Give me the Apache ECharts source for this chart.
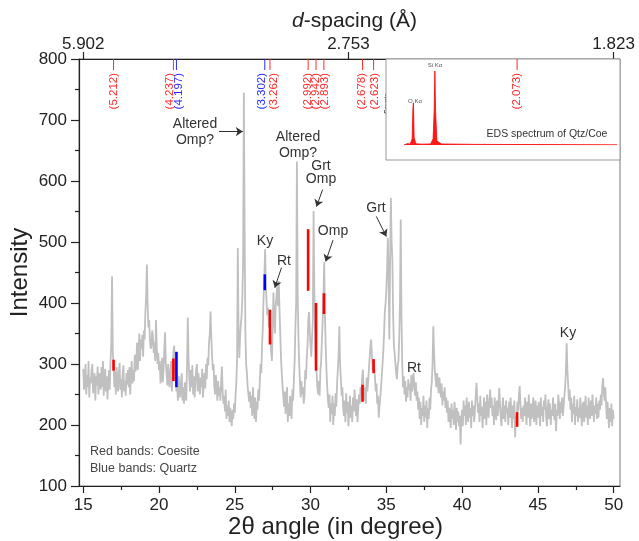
<!DOCTYPE html>
<html>
<head>
<meta charset="utf-8">
<script src="https://cdn.jsdelivr.net/npm/echarts@6/dist/echarts.min.js"></script>
<style>
html,body{margin:0;padding:0;background:#fff;}
#chart{width:639px;height:541px;}
</style>
</head>
<body>
<div id="chart"></div>
<script>
// XRD pattern, 2theta from 15 to 50 every 0.05 degree (one row = one degree)
var angleStart = 15.0;
var angleStep = 0.05;
var intensity = [
  292, 258, 275, 300, 250, 282, 262, 305, 245, 278, 268, 290, 300, 252, 262, 285, 240, 280, 265, 296,
  250, 285, 272, 258, 295, 262, 305, 248, 270, 292, 255, 280, 242, 268, 290, 258, 305, 330, 444, 320,
  300, 262, 288, 250, 295, 270, 255, 288, 302, 258, 275, 245, 282, 298, 255, 272, 248, 285, 266, 290,
  262, 295, 250, 282, 305, 268, 290, 272, 315, 288, 300, 335, 290, 318, 350, 305, 340, 325, 348, 312,
  355, 340, 385, 410, 463, 398, 360, 372, 340, 325, 330, 355, 345, 318, 335, 305, 372, 330, 300, 318,
  290, 305, 268, 282, 310, 270, 290, 325, 352, 300, 285, 265, 300, 272, 262, 290, 305, 255, 280, 320,
  330, 290, 275, 255, 262, 240, 280, 258, 245, 270, 285, 240, 262, 235, 270, 252, 240, 300, 376, 310,
  275, 255, 290, 262, 298, 250, 280, 245, 270, 290, 300, 255, 285, 268, 250, 278, 262, 292, 245, 268,
  285, 260, 300, 275, 310, 298, 335, 350, 386, 345, 315, 290, 300, 262, 250, 282, 265, 240, 272, 248,
  262, 240, 270, 296, 255, 235, 248, 222, 258, 210, 232, 215, 240, 205, 228, 212, 198, 225, 210, 235,
  220, 248, 270, 305, 490, 350, 310, 345, 365, 380, 410, 470, 745, 520, 350, 300, 285, 262, 250, 238,
  255, 228, 248, 215, 262, 232, 210, 245, 205, 238, 225, 258, 240, 270, 300, 285, 330, 360, 410, 440,
  488, 430, 400, 380, 392, 360, 372, 345, 320, 305, 360, 417, 380, 350, 395, 410, 427, 395, 436, 390,
  350, 310, 285, 265, 248, 230, 255, 218, 242, 262, 205, 235, 215, 248, 225, 210, 258, 240, 275, 305,
  360, 400, 632, 420, 345, 300, 268, 245, 272, 250, 262, 235, 248, 290, 275, 310, 330, 372, 385, 350,
  330, 312, 345, 370, 551, 420, 350, 300, 285, 262, 250, 272, 248, 290, 305, 340, 370, 410, 467, 380,
  330, 290, 262, 240, 228, 250, 205, 235, 218, 248, 200, 235, 215, 252, 230, 268, 290, 315, 362, 300,
  275, 248, 262, 230, 215, 240, 205, 252, 220, 238, 198, 225, 248, 212, 232, 205, 245, 222, 258, 235,
  215, 242, 205, 228, 250, 235, 262, 248, 275, 291, 258, 240, 262, 235, 278, 255, 270, 292, 310, 330,
  340, 312, 290, 305, 296, 278, 255, 268, 235, 248, 212, 230, 245, 262, 280, 300, 320, 350, 385, 400,
  420, 455, 507, 440, 340, 470, 572, 500, 470, 380, 330, 318, 300, 285, 275, 298, 305, 340, 400, 537,
  380, 300, 262, 280, 250, 272, 238, 262, 245, 275, 258, 268, 240, 282, 255, 272, 285, 262, 248, 270,
  240, 255, 225, 245, 210, 238, 200, 228, 215, 248, 205, 232, 212, 240, 195, 228, 210, 245, 225, 258,
  270, 300, 362, 320, 290, 275, 262, 285, 270, 252, 278, 262, 245, 268, 232, 255, 240, 262, 228, 245,
  220, 240, 205, 228, 212, 195, 235, 210, 225, 200, 238, 215, 192, 228, 205, 222, 198, 215, 168, 210,
  225, 198, 240, 215, 232, 200, 245, 218, 205, 238, 212, 228, 195, 240, 215, 232, 205, 225, 248, 269,
  245, 220, 235, 205, 248, 215, 230, 195, 222, 245, 210, 238, 200, 250, 225, 212, 240, 258, 228, 245,
  215, 232, 200, 245, 222, 208, 240, 215, 230, 261, 235, 212, 198, 225, 245, 210, 232, 205, 240, 220,
  228, 200, 238, 212, 245, 220, 195, 232, 210, 240, 180, 215, 205, 238, 222, 248, 264, 235, 210, 228,
  205, 232, 215, 245, 225, 200, 238, 212, 250, 220, 198, 235, 210, 228, 245, 205, 222, 240, 200, 232,
  212, 238, 222, 198, 245, 215, 230, 205, 240, 225, 250, 212, 198, 228, 242, 210, 235, 200, 225, 215,
  245, 220, 208, 235, 190, 225, 215, 250, 232, 210, 238, 220, 245, 215, 230, 248, 262, 290, 334, 290,
  265, 240, 258, 225, 245, 205, 235, 218, 248, 200, 230, 215, 242, 205, 228, 212, 245, 220, 198, 232,
  238, 205, 225, 248, 212, 232, 200, 245, 222, 210, 240, 215, 250, 228, 205, 232, 218, 245, 210, 235,
  212, 240, 225, 250, 232, 262, 277, 255, 240, 262, 235, 210, 238, 215, 195, 228, 205, 235, 198, 225,
  210
];

// coesite (red) and quartz (blue) reference bands
var bandAngles = [17.0, 20.95, 21.15, 26.98, 27.32, 29.84, 30.36, 30.88, 33.43, 34.16, 43.63];
var bandLow    = [289, 272, 262, 421, 332, 420, 289, 382, 238, 285, 197];
var bandHigh   = [307, 309, 320, 447, 389, 521, 400, 416, 266, 308, 221];
var bandPhase  = ['c', 'c', 'q', 'q', 'c', 'c', 'c', 'c', 'c', 'c', 'c'];

// d-spacing labels on top
var dLabels = ['(5.212)', '(4.237)', '(4.197)', '(3.302)', '(3.262)', '(2.992)', '(2.942)', '(2.893)', '(2.678)', '(2.623)', '(2.073)'];

// top axis ticks
var topTickAngles = [15, 32.5, 50];
var topTickLabels = ['5.902', '2.753', '1.823'];
var bottomTicks = [15, 20, 25, 30, 35, 40, 45, 50];
var bottomMinor = [17.5, 22.5, 27.5, 32.5, 37.5, 42.5, 47.5];

// EDS inset
var edsEnergy = [0.0, 0.2, 0.35, 0.46, 0.5, 0.53, 0.57, 0.66, 1.0, 1.5, 1.64, 1.7, 1.74, 1.78, 1.85, 2.1, 4.0, 8.0, 12.0];
var edsCounts = [0, 200, 120, 900, 5200, 6100, 1100, 180, 120, 150, 900, 5000, 10700, 4800, 600, 150, 90, 60, 40];

var colorC = '#ff0000';
var colorQ = '#0000ff';
var labelOffsets = [0, -4, 2, -3, 4, 0, 0, 1, -1, 1, 0];
var FONT = 'Liberation Sans, Arial, sans-serif';

var chart = echarts.init(document.getElementById('chart'));

var lineData = intensity.map(function (v, i) {
  return [+(angleStart + i * angleStep).toFixed(2), v];
});
var bandData = bandAngles.map(function (a, i) {
  return [a, bandLow[i], bandHigh[i], i];
});
var dData = bandAngles.map(function (a, i) {
  return [a, 800, i];
});

var xMin = 14.72, xMax = 50.42;

var option = {
  animation: false,
  backgroundColor: '#fff',
  textStyle: {fontFamily: FONT},
  grid: [
    {left: 79, right: 19, top: 59, bottom: 55, outerBoundsMode: 'none', containLabel: false,
     show: true, borderColor: '#777', borderWidth: 1},
    {left: 404, top: 62, width: 213, height: 83, outerBoundsMode: 'none', containLabel: false,
     show: true, borderColor: '#a8a8f0', borderWidth: 1, backgroundColor: '#fff'}
  ],
  xAxis: [
    {
      type: 'value', gridIndex: 0, position: 'bottom', min: xMin, max: xMax,
      name: '2\u03b8 angle (in degree)', nameLocation: 'middle', nameGap: 29, nameMoveOverlap: false,
      nameTextStyle: {fontSize: 24, color: '#222', padding: [0, 28, 0, 0]},
      axisLine: {show: true, lineStyle: {color: '#222', width: 1.2}},
      axisTick: {show: true, length: 7, customValues: bottomTicks, lineStyle: {color: '#222', width: 1.2}},
      axisLabel: {customValues: bottomTicks, fontSize: 17, color: '#222', margin: 11},
      splitLine: {show: false}
    },
    {
      type: 'value', gridIndex: 0, position: 'top', min: xMin, max: xMax,
      name: '{i|d}-spacing (\u00c5)', nameLocation: 'middle', nameGap: 27, nameMoveOverlap: false,
      nameTextStyle: {fontSize: 21, color: '#222', padding: [0, 0, 0, 10], rich: {i: {fontSize: 21, fontStyle: 'italic', color: '#222'}}},
      axisLine: {show: true, lineStyle: {color: '#222', width: 1.2}},
      axisTick: {show: true, length: 7, customValues: topTickAngles, lineStyle: {color: '#222', width: 1.2}},
      axisLabel: {
        customValues: topTickAngles, fontSize: 17, color: '#222', margin: 6,
        formatter: function (v) {
          var k = topTickAngles.indexOf(v);
          return k >= 0 ? topTickLabels[k] : '';
        }
      },
      splitLine: {show: false}
    },
    {
      type: 'value', gridIndex: 0, position: 'bottom', min: xMin, max: xMax,
      axisLine: {show: false},
      axisTick: {show: true, length: 4, customValues: bottomMinor, lineStyle: {color: '#222', width: 1.2}},
      axisLabel: {show: false},
      splitLine: {show: false}
    },
    {
      type: 'value', gridIndex: 1, min: 0, max: 12, interval: 1.2,
      name: 'KeV', nameLocation: 'middle', nameGap: 8,
      nameTextStyle: {fontSize: 6, fontWeight: 'bold', color: '#333'},
      axisLine: {show: false},
      axisTick: {show: false},
      axisLabel: {fontSize: 3.5, color: '#888', margin: 2, formatter: function (v) { return v.toFixed(1); }},
      splitLine: {show: false}
    }
  ],
  yAxis: [
    {
      type: 'value', gridIndex: 0, min: 100, max: 800, interval: 100,
      name: 'Intensity', nameLocation: 'middle', nameGap: 47, nameMoveOverlap: false,
      nameTextStyle: {fontSize: 24, color: '#222'},
      axisLine: {show: true, lineStyle: {color: '#222', width: 1.2}},
      axisTick: {show: true, length: 8, lineStyle: {color: '#222', width: 1.2}},
      minorTick: {show: true, splitNumber: 2, length: 4, lineStyle: {color: '#222', width: 1.2}},
      axisLabel: {fontSize: 17, color: '#222', margin: 12},
      splitLine: {show: false}
    },
    {
      type: 'value', gridIndex: 1, min: 0, max: 12000, interval: 1000,
      name: 'Counts', nameLocation: 'middle', nameGap: 10,
      nameTextStyle: {fontSize: 6, fontWeight: 'bold', color: '#333'},
      axisLine: {show: false},
      axisTick: {show: false},
      axisLabel: {fontSize: 3, color: '#888', margin: 2},
      splitLine: {show: false}
    }
  ],
  series: [
    {
      type: 'line', xAxisIndex: 0, yAxisIndex: 0, data: lineData,
      symbol: 'none', clip: true, z: 2,
      lineStyle: {color: '#c0c0c0', width: 1.8},
      markLine: {
        silent: true, symbol: ['none', 'arrow'], symbolSize: 7, precision: 2,
        label: {show: false},
        lineStyle: {color: '#333', width: 1, type: 'solid'},
        data: [
          [{coord: [23.96, 681]}, {coord: [25.53, 681]}],
          [{coord: [30.80, 586]}, {coord: [30.39, 558]}],
          [{coord: [31.48, 503]}, {coord: [31.00, 468]}],
          [{coord: [34.34, 542]}, {coord: [35.00, 509]}],
          [{coord: [28.08, 458]}, {coord: [27.64, 425]}]
        ]
      }
    },
    {
      type: 'custom', xAxisIndex: 0, yAxisIndex: 0, data: bandData, z: 4,
      renderItem: function (params, api) {
        var lo = api.coord([api.value(0), api.value(1)]);
        var hi = api.coord([api.value(0), api.value(2)]);
        var k = api.value(3);
        return {
          type: 'rect',
          shape: {x: lo[0] - 1.3, y: hi[1], width: 2.6, height: lo[1] - hi[1]},
          style: {fill: bandPhase[k] === 'q' ? colorQ : colorC}
        };
      }
    },
    {
      type: 'custom', xAxisIndex: 0, yAxisIndex: 0, data: dData, z: 10,
      renderItem: function (params, api) {
        var p = api.coord([api.value(0), api.value(1)]);
        var k = api.value(2);
        var c = bandPhase[k] === 'q' ? '#2b2bff' : '#ff2b2b';
        return {
          type: 'group',
          children: [
            {type: 'line', shape: {x1: p[0], y1: p[1], x2: p[0], y2: p[1] + 11}, style: {stroke: c, lineWidth: 1}},
            {
              type: 'text', x: p[0] + labelOffsets[k], y: p[1] + 14, rotation: Math.PI / 2,
              style: {text: dLabels[k], fill: c, font: '11.5px ' + FONT, align: 'right', verticalAlign: 'middle'}
            }
          ]
        };
      }
    },
    {
      type: 'line', xAxisIndex: 3, yAxisIndex: 1, z: 5,
      data: edsEnergy.map(function (e, i) { return [e, edsCounts[i]]; }),
      symbol: 'none',
      lineStyle: {color: '#ff0000', width: 0.8},
      areaStyle: {color: '#ff0000', opacity: 0.9}
    }
  ],
  graphic: [
    {type: 'rect', z: 1, shape: {x: 386, y: 59, width: 234, height: 101}, style: {fill: '#fff', stroke: '#999', lineWidth: 1}},
    {type: 'text', z: 6, x: 435, y: 65.5, style: {text: 'Si K\u03b1', font: '6px ' + FONT, fill: '#555', align: 'center', verticalAlign: 'middle'}},
    {type: 'text', z: 6, x: 415, y: 101.5, style: {text: 'O K\u03b1', font: '6px ' + FONT, fill: '#555', align: 'center', verticalAlign: 'middle'}},
    {type: 'text', z: 6, x: 547, y: 134, style: {text: 'EDS spectrum of Qtz/Coe', font: '10.5px ' + FONT, fill: '#333', align: 'center', verticalAlign: 'middle'}},

    {type: 'text', z: 6, x: 195, y: 132, style: {text: 'Altered\nOmp?', font: '14px ' + FONT, lineHeight: 16, fill: '#333', align: 'center', verticalAlign: 'middle'}},
    {type: 'text', z: 6, x: 298, y: 145.5, style: {text: 'Altered\nOmp?', font: '14px ' + FONT, lineHeight: 16, fill: '#333', align: 'center', verticalAlign: 'middle'}},
    {type: 'text', z: 6, x: 321, y: 173, style: {text: 'Grt\nOmp', font: '14px ' + FONT, lineHeight: 13, fill: '#333', align: 'center', verticalAlign: 'middle'}},
    {type: 'text', z: 6, x: 333, y: 231.5, style: {text: 'Omp', font: '14px ' + FONT, fill: '#333', align: 'center', verticalAlign: 'middle'}},
    {type: 'text', z: 6, x: 376, y: 208, style: {text: 'Grt', font: '14px ' + FONT, fill: '#333', align: 'center', verticalAlign: 'middle'}},
    {type: 'text', z: 6, x: 265, y: 241, style: {text: 'Ky', font: '14px ' + FONT, fill: '#333', align: 'center', verticalAlign: 'middle'}},
    {type: 'text', z: 6, x: 284, y: 261, style: {text: 'Rt', font: '14px ' + FONT, fill: '#333', align: 'center', verticalAlign: 'middle'}},
    {type: 'text', z: 6, x: 414, y: 368, style: {text: 'Rt', font: '14px ' + FONT, fill: '#333', align: 'center', verticalAlign: 'middle'}},
    {type: 'text', z: 6, x: 568, y: 333, style: {text: 'Ky', font: '14px ' + FONT, fill: '#333', align: 'center', verticalAlign: 'middle'}},

    {type: 'text', z: 6, x: 90, y: 452, style: {text: 'Red bands: Coesite', font: '12.5px ' + FONT, fill: '#444', verticalAlign: 'middle'}},
    {type: 'text', z: 6, x: 90, y: 469, style: {text: 'Blue bands: Quartz', font: '12.5px ' + FONT, fill: '#444', verticalAlign: 'middle'}}
  ]
};

chart.setOption(option);
</script>
</body>
</html>
